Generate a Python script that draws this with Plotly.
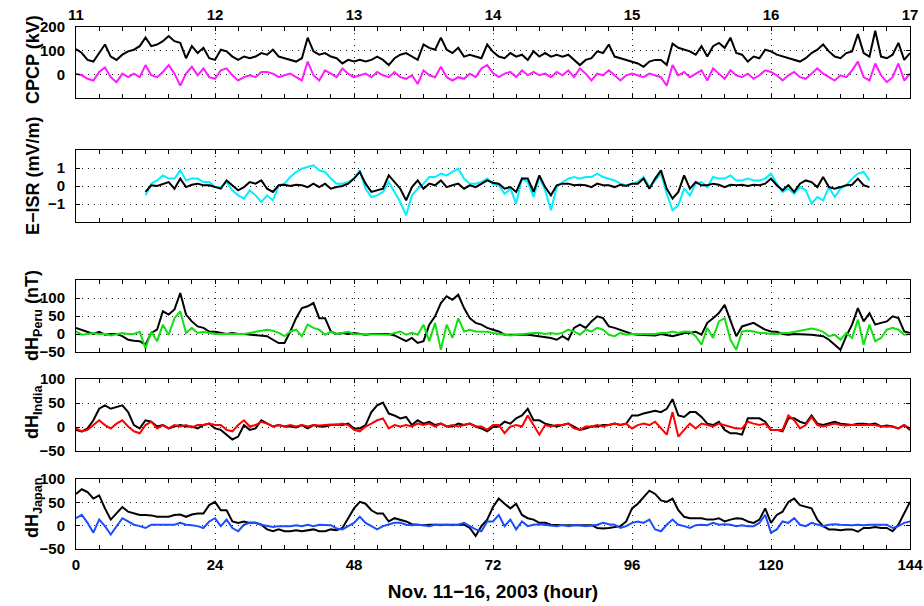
import plotly.graph_objects as go

hours = list(range(145))
hours_isr = list(range(12, 138))

cpcp_model = [107, 90, 61, 54, 90, 126, 75, 61, 83, 97,
              104, 119, 155, 119, 126, 140, 162, 140, 133, 68,
              119, 90, 112, 68, 61, 104, 97, 75, 61, 75,
              68, 75, 90, 83, 104, 75, 68, 61, 54, 68,
              155, 97, 83, 90, 75, 68, 46, 61, 54, 61,
              54, 61, 75, 61, 39, 68, 83, 90, 75, 61,
              126, 112, 104, 155, 104, 90, 112, 75, 83, 75,
              68, 126, 95, 75, 68, 90, 75, 83, 61, 97,
              75, 90, 75, 83, 75, 83, 61, 39, 61, 68,
              97, 90, 126, 75, 68, 61, 54, 46, 32, 54,
              61, 61, 40, 130, 112, 104, 97, 83, 119, 75,
              119, 133, 112, 155, 90, 83, 54, 75, 68, 104,
              97, 83, 75, 68, 61, 54, 68, 90, 104, 126,
              97, 75, 68, 90, 97, 170, 90, 75, 184, 75,
              68, 83, 133, 61, 90]
cpcp_obs = [3, -4, -19, -26, 10, 29, -12, -33, 3, -12,
            3, -12, 39, -4, -12, 10, 39, 3, -48, 3,
            32, -4, 25, -12, -19, 17, 25, -4, -26, -12,
            -4, -12, 10, 10, 3, -12, -4, 3, -12, -26,
            54, -4, -26, 17, 3, -12, 25, 3, -12, -4,
            3, -12, 10, -4, -12, 10, -12, -19, -4, -41,
            17, -4, -12, 32, -12, -26, -12, -19, 3, -12,
            25, 39, 5, -12, 3, 10, -12, 17, -4, 10,
            -4, 3, -12, 10, -4, 17, -12, 25, 3, -26,
            3, -4, 17, -4, -26, -4, 3, -4, -12, 3,
            -4, -12, -48, 39, -4, 10, -12, 3, 17, -26,
            25, 3, -19, 17, -4, -12, 3, -19, -4, 17,
            10, -4, -26, -4, 10, -12, -19, 3, 25, 3,
            -12, -26, -4, -12, 17, 54, -12, -26, 46, -4,
            -33, -12, 46, -26, 3]

eisr_obs = [-0.52, 0.13, 0.31, 0.59, 0.41, 0.41, 0.87, 0.31, 0.41, 0.41,
            0.22, 0.22, -0.06, -0.06, 0.22, -0.24, -0.52, -0.70, -0.24, -0.52,
            -0.89, -0.52, -0.80, 0.04, 0.13, 0.50, 0.78, 0.96, 1.06, 1.15,
            0.87, 0.78, 0.41, 0.13, 0.13, 0.22, 0.41, 0.87, -0.15, -0.61,
            -0.52, -0.33, 0.22, -0.33, -0.89, -1.63, -0.52, -0.15, 0.13, 0.50,
            0.50, 0.69, 0.59, 0.78, 0.96, 0.41, 0.13, 0.13, 0.22, 0.41,
            0.10, 0.04, -0.43, -0.15, -0.98, 0.41, 0.22, -0.61, 0.50, -0.24,
            -1.35, -0.06, 0.22, 0.41, 0.50, 0.41, 0.50, 0.50, 0.69, 0.50,
            0.41, 0.31, 0.13, 0.04, 0.13, 0.22, 0.50, -0.06, 0.31, 0.69,
            -0.43, -1.35, -1.07, -0.15, -0.52, 0.13, 0.22, -0.06, 0.50, 0.41,
            0.41, 0.59, 0.31, 0.31, 0.41, 0.31, 0.31, 0.41, 0.69, 0.13,
            -0.33, -0.15, -0.43, -0.06, -0.24, -0.98, -0.61, -0.80, -0.06, -0.61,
            -0.15, 0.04, 0.41, 0.69, 0.78, 0.31]
eisr_model = [-0.33, 0.04, 0.0, 0.13, 0.22, -0.15, 0.41, -0.06, 0.07, 0.13,
              0.04, 0.04, -0.06, -0.15, 0.31, 0.04, -0.24, -0.06, 0.22, 0.13,
              0.31, -0.15, -0.33, 0.04, 0.07, 0.0, 0.07, 0.04, -0.06, 0.13,
              -0.06, 0.13, -0.15, -0.06, 0.0, 0.13, 0.41, 0.78, 0.13, -0.33,
              -0.24, -0.15, 0.59, 0.22, -0.15, -0.80, -0.06, 0.31, -0.15, 0.13,
              0.04, 0.31, -0.06, 0.04, 0.13, -0.15, 0.04, -0.06, 0.13, 0.31,
              0.18, 0.13, -0.15, -0.06, -0.33, 0.41, 0.41, -0.33, 0.59, -0.06,
              -0.52, 0.04, 0.13, 0.13, 0.04, 0.07, 0.04, -0.06, 0.13, 0.04,
              0.04, -0.06, 0.07, 0.0, 0.13, 0.13, 0.41, -0.15, 0.41, 0.87,
              -0.15, -0.70, -0.33, 0.59, -0.15, 0.22, 0.04, 0.04, 0.13, 0.07,
              -0.06, 0.07, 0.04, 0.07, 0.0, 0.07, 0.04, 0.13, 0.41, 0.04,
              -0.24, 0.04, -0.33, 0.13, 0.31, 0.22, -0.06, 0.50, -0.06, -0.15,
              -0.06, 0.04, 0.07, 0.41, 0.04, -0.06]

peru_obs = [17, 12, 6, 0, 6, -2, 0, 0, -6, -16,
            -19, -20, -30, 3, 12, 63, 54, 68, 114, 54,
            35, 21, 17, 7, 6, 3, 0, 3, 0, 0,
            -2, -2, -5, -6, -16, -25, -25, 7, 44, 72,
            77, 86, 44, 44, 7, 0, 3, 0, 3, 0,
            -2, 0, 0, -2, 0, -4, -11, -20, -11, -25,
            -20, 26, 49, 86, 105, 95, 109, 72, 44, 31,
            26, 17, 12, 7, -2, -2, -2, 0, -2, -4,
            -6, -9, -11, -16, -6, -16, 17, 26, 17, 35,
            49, 44, 21, 17, 12, 6, 0, -2, -2, -2,
            -4, 0, -2, -6, -2, 3, 3, 6, -2, 31,
            44, 58, 81, 35, -6, 21, 26, 31, 21, 12,
            7, 6, 0, -2, 0, 0, 0, -2, -4, -6,
            -16, -30, -44, -6, 26, 72, 35, 58, 26, 31,
            35, 49, 44, 7, 3]
peru_model = [7, -2, 0, 3, 0, 0, -4, 0, 3, 0,
              0, 6, -40, 7, -20, 26, -2, 44, 63, 3,
              17, 3, 6, 3, 0, 0, 0, 0, 0, 0,
              3, 7, 9, 12, 9, 3, -6, 7, 12, -6,
              26, 17, 12, -2, 6, 0, 3, 6, 0, 0,
              -2, 0, 0, 0, -2, 3, 7, -2, 3, -2,
              26, -20, 31, -44, 26, -11, 44, 7, 12, 7,
              7, 6, 3, 0, -2, -4, -2, 0, 3, 3,
              3, 0, 3, 0, 3, 12, 7, -2, 12, 7,
              17, 12, -2, -6, 3, -2, 0, 0, -2, 0,
              0, 3, 3, 7, 3, 7, 6, -6, -30, 17,
              -11, 35, 44, -16, -44, 7, 9, 7, 3, 3,
              0, 0, 3, 3, 6, 7, 12, 15, 12, 6,
              -6, -2, -16, 3, -11, 40, -30, 26, -20, -11,
              12, 17, 12, -2, 0]

india_obs = [-6, -9, -3, 14, 38, 45, 38, 41, 45, 31,
             4, -3, 14, 11, 1, 4, -3, 1, 4, 1,
             1, -3, 4, 7, -3, -6, -16, -26, -20, 4,
             -6, -3, 14, 7, 1, 4, 1, 1, -1, 4,
             -3, 4, 1, 1, 4, 5, 4, 7, -3, -3,
             4, 31, 45, 51, 28, 24, 18, 21, 4, 14,
             7, 11, 4, 7, 1, 1, 7, 4, 7, 1,
             -3, -9, 0, 1, 11, 7, 18, 24, 38, 14,
             14, 7, 4, 1, 4, 7, 1, -6, -3, 1,
             1, 4, 4, 7, 4, 7, 24, 24, 28, 31,
             34, 31, 38, 58, 24, 21, 31, 31, 21, 7,
             4, 11, -6, -13, -13, -16, 18, 18, 18, 11,
             -6, -6, -9, 18, 18, 11, 7, 24, 7, 4,
             7, 11, 7, 5, 4, 7, 7, 5, 7, 1,
             3, 1, -3, 4, -6]
india_model = [-3, -9, -6, 4, 14, 4, -3, 7, 14, 1,
               -9, -13, 4, 11, -3, 4, -3, 4, 1, 4,
               -1, 4, 4, 7, 4, 4, -6, -9, 4, 14,
               1, 4, 11, 7, 1, 4, 1, 4, 1, 4,
               1, 4, 3, 4, 5, 4, 7, 4, -6, -9,
               1, 7, 14, 18, -3, 4, 1, 4, 1, 7,
               4, 7, 1, 7, 1, 4, 1, 4, 7, 1,
               1, -6, 4, 4, -13, 1, 4, 1, 24, 4,
               -16, 4, 1, 4, 4, 7, -3, -6, 1, 1,
               4, 1, 4, 7, 4, 7, -3, 4, 7, 4,
               11, -3, -16, 31, -20, -6, 7, -3, 7, 4,
               1, 7, 4, 1, -3, -3, 11, 7, 4, 7,
               -6, -6, -6, 24, 14, -3, 4, 21, 4, 1,
               4, 7, 4, 3, 4, 4, 5, 4, 4, 1,
               1, 1, -3, 4, -3]

japan_obs = [68, 78, 72, 58, 65, 37, 13, 26, 40, 30,
             26, 23, 23, 22, 19, 19, 19, 23, 24, 19,
             24, 26, 26, 44, 51, 33, 33, 9, 6, 9,
             6, 6, 2, -8, -12, -8, -12, -12, -10, -12,
             -10, -8, -12, -12, -8, -10, -5, 16, 37, 51,
             47, 33, 26, 26, 9, 16, 13, 9, 3, 2,
             1, 2, 2, 1, 2, 2, 1, 2, -5, -22,
             -1, 13, 40, 58, 47, 37, 47, 23, 16, 13,
             6, 6, 2, 1, 1, 1, 1, 2, 2, 1,
             -5, -6, -5, -3, -1, 9, 37, 47, 61, 75,
             68, 54, 51, 58, 33, 19, 16, 16, 16, 13,
             13, 16, 9, 13, 16, 15, 9, 6, 13, 37,
             6, 23, 30, 51, 58, 44, 40, 37, 13, -1,
             -8, -8, -10, -8, -8, -13, -5, -5, -3, -5,
             -5, -12, 2, 26, 51]
japan_model = [16, 23, 6, -15, 13, -1, -19, -1, 16, 9,
               2, -1, -5, 2, 2, 2, 3, 2, 6, 2,
               1, -1, -5, 9, 16, -1, 13, -5, -12, 2,
               6, 6, 2, -1, -3, -1, -1, -1, 1, -1,
               2, -1, 2, 1, 1, -6, -8, -1, 6, 19,
               6, -1, -8, -1, 2, 6, 6, 2, 1, 2,
               1, -1, 2, 1, 2, 1, 2, 6, -1, -8,
               -12, 9, 9, 23, -1, 13, -8, 9, -1, 2,
               3, 2, 1, -1, 2, -1, 1, 1, -1, 1,
               2, 6, 3, 2, -5, -1, 6, 9, 6, 13,
               -8, -12, 2, 13, 2, -1, -5, 1, 2, 1,
               6, 2, 3, 2, -1, 1, -1, -1, 6, 23,
               -15, -8, 9, 6, 16, 2, -1, 6, 2, -1,
               2, 3, 2, 1, 1, 2, 1, 2, 2, 1,
               2, -5, -1, 6, 9]

day_ticks = [0, 24, 48, 72, 96, 120, 144]
day_labels = ["11", "12", "13", "14", "15", "16", "17"]
hour_labels = ["0", "24", "48", "72", "96", "120", "144"]

y_titles = ["CPCP (kV)", "E\u2212ISR (mV/m)", "dH<sub>Peru</sub> (nT)",
            "dH<sub>India</sub>", "dH<sub>Japan</sub>"]
y_ranges = [[-100, 200], [-2, 2], [-50, 150], [-50, 100], [-50, 100]]
y_ticks = [[0, 100, 200], [-1, 0, 1], [-50, 0, 50, 100], [-50, 0, 50, 100], [-50, 0, 50, 100]]
y_ticktext = [["0", "100", "200"], ["\u22121", "0", "1"],
              ["\u221250", "0", "50", "100"], ["\u221250", "0", "50", "100"],
              ["\u221250", "0", "50", "100"]]
x_title = "Nov. 11\u221216, 2003 (hour)"

FONT = "Liberation Sans"
W, H = 924, 606
ML, MR, MT, MB = 76, 14, 27, 57
plot_h = H - MT - MB
panel_px = [(27, 98), (150, 222), (280, 352), (379, 451), (479, 549)]
title_y_px = [60, 176, 316, 412, 508]
title_x_px = 33


def frac(ypx):
    return (H - MB - ypx) / plot_h


def b(s):
    return "<b>" + s + "</b>"


fig = go.Figure()

series = [
    (1, hours, cpcp_model, "#000000"),
    (1, hours, cpcp_obs, "#ff1aff"),
    (2, hours_isr, eisr_obs, "#00f0ff"),
    (2, hours_isr, eisr_model, "#000000"),
    (3, hours, peru_obs, "#000000"),
    (3, hours, peru_model, "#11e011"),
    (4, hours, india_obs, "#000000"),
    (4, hours, india_model, "#ff0000"),
    (5, hours, japan_obs, "#000000"),
    (5, hours, japan_model, "#1a4dff"),
]
for k, xs, ys, col in series:
    sfx = "" if k == 1 else str(k)
    fig.add_trace(go.Scatter(x=xs, y=ys, mode="lines",
                             line=dict(color=col, width=2),
                             xaxis="x" + sfx, yaxis="y" + sfx,
                             showlegend=False, hoverinfo="skip"))

tickfont = dict(family=FONT, size=15, color="black")
GRID_DASH = "1px,5px"
GRID_COL = "#222222"
layout = dict(width=W, height=H, plot_bgcolor="white", paper_bgcolor="white",
              margin=dict(l=ML, r=MR, t=MT, b=MB, autoexpand=False),
              showlegend=False, hovermode=False)

for i in range(5):
    k = i + 1
    sfx = "" if k == 1 else str(k)
    top, bot = panel_px[i]
    xa = dict(domain=[0, 1], anchor="y" + sfx, range=[0, 144], automargin=False,
              tickvals=day_ticks, ticks="inside", ticklen=4, tickcolor="black",
              showline=True, linecolor="black", linewidth=1, mirror="allticks",
              showgrid=True, gridcolor=GRID_COL, griddash=GRID_DASH, gridwidth=1,
              zeroline=False, tickfont=tickfont,
              minor=dict(dtick=4, tick0=0, ticks="inside", ticklen=4,
                         tickcolor="black", showgrid=False))
    if k == 1:
        xa.update(side="top", ticktext=[b(t) for t in day_labels], showticklabels=True,
                  ticklabelstandoff=0)
    elif k == 5:
        xa.update(ticktext=[b(t) for t in hour_labels], showticklabels=True,
                  ticklabelstandoff=2,
                  title=dict(text=b(x_title),
                             font=dict(family=FONT, size=19, color="black"),
                             standoff=12))
    else:
        xa.update(showticklabels=False)
    if k > 1:
        xa["matches"] = "x"
    ya = dict(domain=[frac(bot), frac(top)], anchor="x" + sfx, range=y_ranges[i],
              automargin=False,
              tickvals=y_ticks[i], ticktext=[b(t) for t in y_ticktext[i]],
              ticks="inside", ticklen=4, tickcolor="black", showline=True,
              linecolor="black", linewidth=1, mirror="allticks", showgrid=True,
              gridcolor=GRID_COL, griddash=GRID_DASH, gridwidth=1,
              zeroline=False, tickfont=tickfont, ticklabelstandoff=7)
    layout["xaxis" + sfx] = xa
    layout["yaxis" + sfx] = ya

annotations = []
for i in range(5):
    annotations.append(dict(text=b(y_titles[i]), xref="paper", yref="paper",
                            x=(title_x_px - ML) / (W - ML - MR), y=frac(title_y_px[i]),
                            xanchor="center", yanchor="middle", textangle=-90,
                            showarrow=False,
                            font=dict(family=FONT, size=18, color="black")))
layout["annotations"] = annotations
fig.update_layout(**layout)
# remove the default page margin so the figure fills the window exactly
fig.write_html("out.html",
               config={"displayModeBar": False, "staticPlot": True},
               post_script="document.body.style.margin='0';"
                           "document.body.style.overflow='hidden';")
